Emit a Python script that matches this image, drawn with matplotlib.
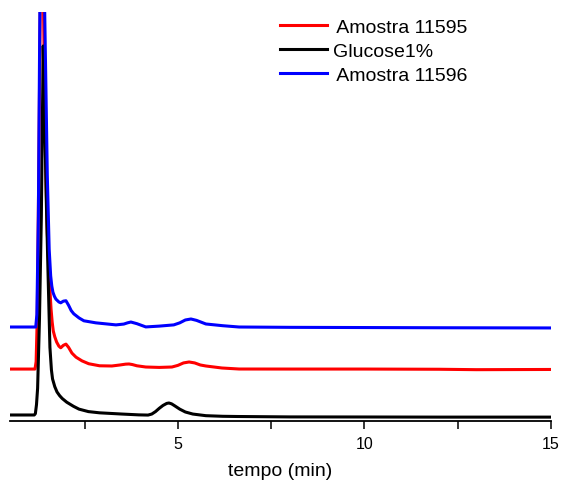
import matplotlib
matplotlib.use("Agg")
import matplotlib.pyplot as plt

plt.rcParams['font.family'] = ['Liberation Sans', 'DejaVu Sans']

# Retention time (min) and detector signal (arbitrary units, stacked traces)
t_black = [0.50, 1.15, 1.18, 1.21, 1.24, 1.29, 1.34, 1.37, 1.39, 1.42, 1.47, 1.52,
           1.57, 1.61, 1.64, 1.70, 1.76, 1.83, 1.90, 2.02, 2.20, 2.35, 2.60, 2.90,
           3.50, 3.95, 4.20, 4.30, 4.40, 4.50, 4.60, 4.70, 4.76, 4.83, 4.90, 5.05,
           5.20, 5.40, 5.75, 6.20, 6.60, 8.00, 10.0, 12.0, 15.0]
v_black = [1.47, 1.47, 1.8, 4.0, 8.0, 25.0, 50.0, 75.0, 91.7, 80.0, 55.0, 36.0,
           18.0, 12.5, 10.3, 8.4, 7.1, 6.2, 5.5, 4.6, 3.6, 2.9, 2.3, 2.0,
           1.7, 1.5, 1.45, 1.7, 2.3, 3.1, 3.8, 4.3, 4.4, 4.2, 3.8, 2.9,
           2.2, 1.7, 1.3, 1.15, 1.1, 1.0, 0.98, 0.95, 0.95]

t_red = [0.50, 1.17, 1.20, 1.23, 1.27, 1.31, 1.35, 1.40, 1.45, 1.50, 1.53, 1.57,
         1.60, 1.63, 1.66, 1.70, 1.75, 1.81, 1.86, 1.93, 2.00, 2.07, 2.16, 2.27,
         2.43, 2.61, 2.90, 3.23, 3.45, 3.60, 3.69, 3.78, 3.90, 4.14, 4.50, 4.84,
         5.00, 5.15, 5.30, 5.45, 5.60, 5.75, 6.18, 6.64, 8.00, 10.0, 12.0, 13.0, 15.0]
v_red = [12.7, 12.7, 14.5, 25.0, 60.0, 100.0, 140.0, 100.0, 65.0, 46.0, 39.6, 32.0,
         27.4, 24.2, 22.0, 20.6, 19.3, 18.3, 17.9, 18.5, 18.8, 18.0, 16.6, 15.6,
         14.7, 14.0, 13.5, 13.45, 13.7, 13.9, 13.94, 13.8, 13.5, 13.2, 13.1, 13.2,
         13.6, 14.2, 14.43, 14.2, 13.7, 13.45, 12.96, 12.71, 12.7, 12.7, 12.65, 12.55, 12.6]

t_blue = [0.50, 1.19, 1.22, 1.26, 1.30, 1.35, 1.38, 1.43, 1.50, 1.55, 1.59, 1.62,
          1.65, 1.69, 1.73, 1.81, 1.86, 1.93, 2.00, 2.07, 2.14, 2.21, 2.35, 2.48,
          2.80, 3.34, 3.55, 3.65, 3.74, 3.82, 3.90, 4.14, 4.50, 4.89, 5.05, 5.20,
          5.35, 5.50, 5.75, 6.20, 6.64, 8.00, 10.0, 12.0, 15.0]
v_blue = [22.98, 22.98, 26.0, 50.0, 100.0, 150.0, 150.0, 100.0, 60.0, 42.0, 35.5, 33.0,
          31.5, 30.5, 29.8, 29.1, 28.9, 29.3, 29.4, 28.3, 27.0, 26.2, 25.2, 24.5,
          24.0, 23.5, 23.7, 24.0, 24.2, 24.0, 23.8, 23.0, 23.2, 23.5, 24.0, 24.7,
          24.94, 24.6, 23.72, 23.3, 22.98, 22.9, 22.85, 22.8, 22.75]

labels = [" Amostra 11595", "Glucose1%", " Amostra 11596"]
x_major = [5, 10, 15]
x_minor = [2.5, 7.5, 12.5]

fig = plt.figure(figsize=(5.62, 4.85), dpi=100)
ax = fig.add_axes([10/562, 1 - 422/485, (551 - 10)/562, (422 - 13)/485])

ax.plot(t_red, v_red, color='#ff0000', lw=2.2, label=labels[0])
ax.plot(t_black, v_black, color='#000000', lw=2.2, label=labels[1])
ax.plot(t_blue, v_blue, color='#0000ff', lw=2.2, label=labels[2])

ax.set_xlim(0.5, 15.0)
ax.set_ylim(0, 100)
for s in ['top', 'right', 'left']:
    ax.spines[s].set_visible(False)
ax.spines['bottom'].set_linewidth(1.3)
ax.set_yticks([])
ax.set_xticks(x_major)
ax.set_xticklabels([str(v) for v in x_major])
ax.set_xticks(x_minor, minor=True)
ax.tick_params(axis='x', which='both', direction='out', length=5.5, width=1.1,
               labelsize=11.5, pad=5)
ax.set_xlabel('tempo (min)', fontsize=14, labelpad=8)

leg = fig.legend(loc='upper left', bbox_to_anchor=(280/562, 1 - 19/485),
                 frameon=False, fontsize=14, handlelength=2.4, handletextpad=0.3,
                 labelspacing=0.33, borderpad=0, borderaxespad=0)

fig.savefig('out.png', dpi=100)
